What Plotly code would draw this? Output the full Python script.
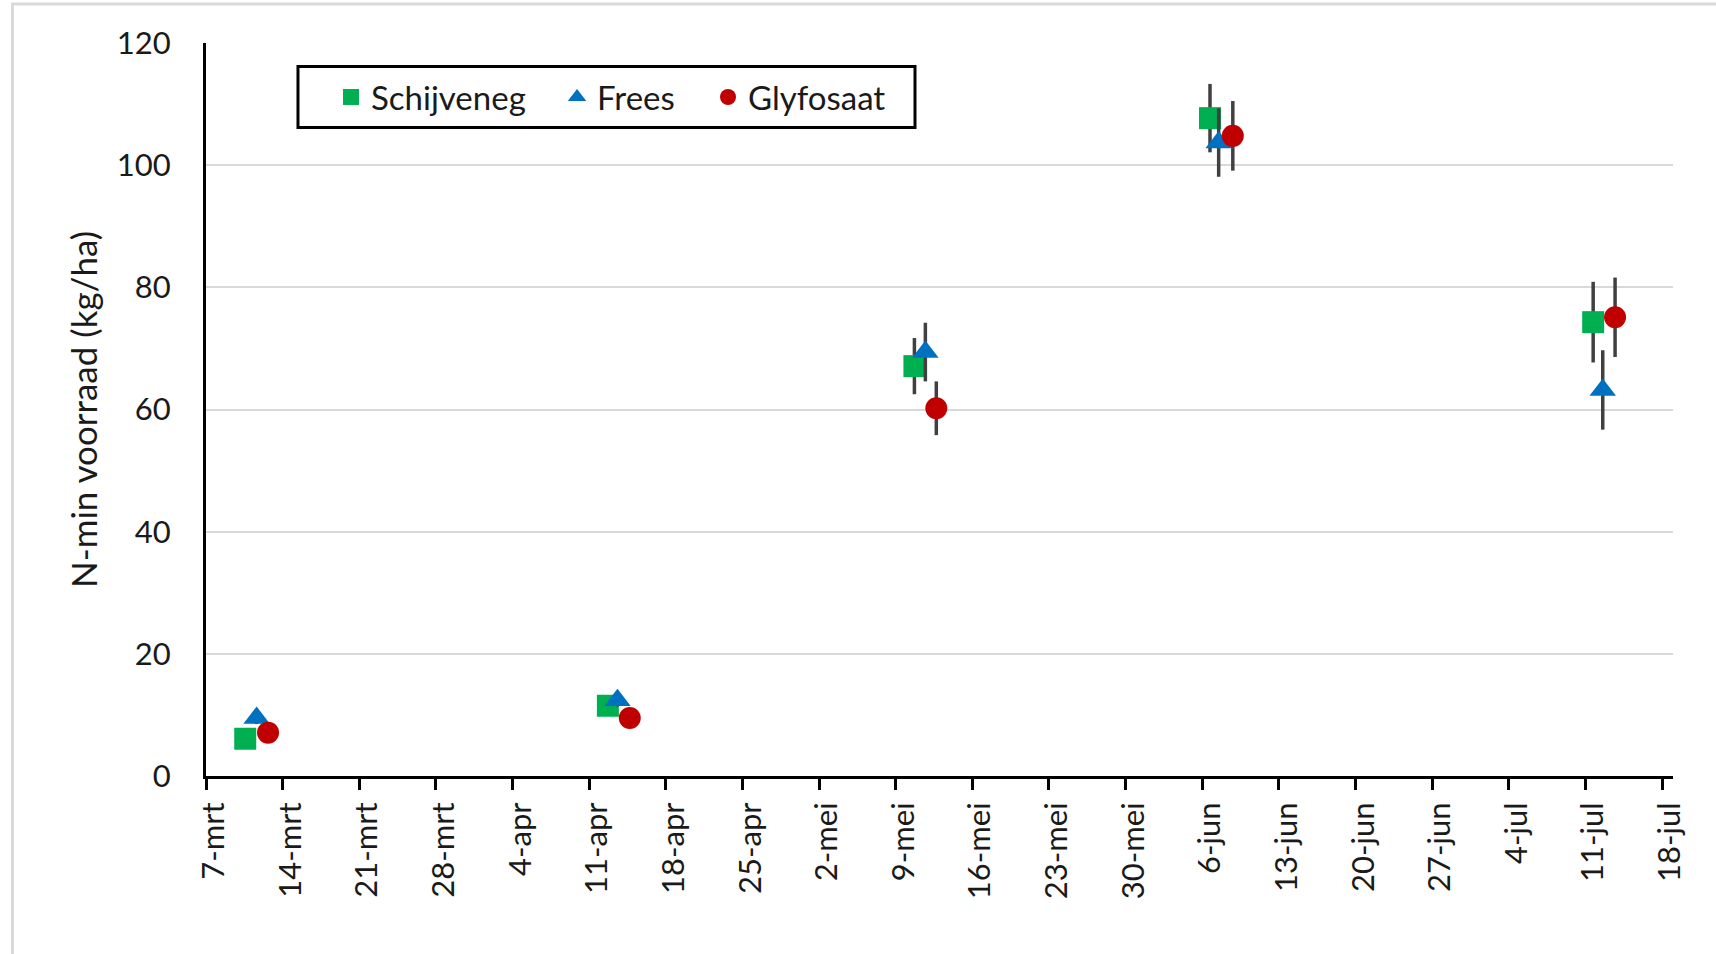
import plotly.graph_objects as go

# ---- data ----
series_names = ["Schijveneg", "Frees", "Glyfosaat"]
colors = ["#00B050", "#0070C0", "#C00000"]
symbols = ["square", "triangle-up", "circle"]

dates_schijveneg = ["2021-03-10 14:00", "2021-04-12 17:00", "2021-05-10 17:00", "2021-06-06 17:00", "2021-07-11 17:00"]
dates_frees = ["2021-03-11 15:00", "2021-04-13 14:00", "2021-05-11 17:00", "2021-06-07 12:00", "2021-07-12 14:00"]
dates_glyfosaat = ["2021-03-12 16:00", "2021-04-14 17:00", "2021-05-12 17:00", "2021-06-08 19:00", "2021-07-13 17:00"]

values_schijveneg = [6.1, 11.5, 67.1, 107.7, 74.3]
values_frees = [9.5, 12.4, 69.4, 103.7, 63.2]
values_glyfosaat = [7.1, 9.5, 60.2, 104.8, 75.1]

err_schijveneg = [1.0, 1.0, 4.6, 5.6, 6.6]
err_frees = [1.0, 1.0, 4.8, 5.6, 6.5]
err_glyfosaat = [1.0, 1.0, 4.4, 5.7, 6.5]

tick_dates = ["2021-03-07", "2021-03-14", "2021-03-21", "2021-03-28", "2021-04-04", "2021-04-11",
              "2021-04-18", "2021-04-25", "2021-05-02", "2021-05-09", "2021-05-16", "2021-05-23",
              "2021-05-30", "2021-06-06", "2021-06-13", "2021-06-20", "2021-06-27", "2021-07-04",
              "2021-07-11", "2021-07-18"]
tick_labels = ["7-mrt", "14-mrt", "21-mrt", "28-mrt", "4-apr", "11-apr", "18-apr", "25-apr",
               "2-mei", "9-mei", "16-mei", "23-mei", "30-mei", "6-jun", "13-jun", "20-jun",
               "27-jun", "4-jul", "11-jul", "18-jul"]
y_ticks = [0, 20, 40, 60, 80, 100, 120]

all_dates = [dates_schijveneg, dates_frees, dates_glyfosaat]
all_values = [values_schijveneg, values_frees, values_glyfosaat]
all_errs = [err_schijveneg, err_frees, err_glyfosaat]
legend_ids = ["legend", "legend2", "legend3"]
legend_x = [0.0852, 0.2393, 0.3422]

FONT = "Lato"
TXT = "#1a1a1a"

fig = go.Figure()
for name, col, sym, xs, ys, es, lid in zip(series_names, colors, symbols, all_dates, all_values, all_errs, legend_ids):
    fig.add_trace(go.Scatter(
        x=xs, y=ys, mode="markers", name=name, legend=lid,
        marker=dict(symbol=sym, size=23 if sym == "triangle-up" else 22, color=col, line=dict(width=0)),
        error_y=dict(type="data", array=es, visible=True, color="#404040", thickness=3.5, width=0),
    ))

legend_common = dict(
    orientation="h", xanchor="left", yanchor="middle", y=0.9263,
    borderwidth=0, bgcolor="rgba(0,0,0,0)",
    font=dict(family=FONT, size=33, color=TXT),
)

fig.update_layout(
    width=1716, height=954,
    margin=dict(l=206, r=43, t=43, b=178),
    paper_bgcolor="white", plot_bgcolor="white",
    font=dict(family=FONT, size=31, color=TXT),
    showlegend=True,
    legend=dict(x=legend_x[0], **legend_common),
    legend2=dict(x=legend_x[1], **legend_common),
    legend3=dict(x=legend_x[2], **legend_common),
    xaxis=dict(
        type="date",
        range=["2021-03-07", "2021-07-19"],
        tickmode="array", tickvals=tick_dates, ticktext=tick_labels,
        tickangle=-90,
        ticks="outside", ticklen=11, tickwidth=3, tickcolor="black",
        showline=True, linecolor="black", linewidth=3,
        showgrid=False, zeroline=False,
        tickfont=dict(family=FONT, size=31, color=TXT),
        ticklabelshift=8,
    ),
    yaxis=dict(
        range=[0, 120],
        tickmode="array", tickvals=y_ticks,
        showline=True, linecolor="black", linewidth=3,
        showgrid=True, gridcolor="#d9d9d9", gridwidth=2,
        zeroline=False, ticks="",
        ticklabelstandoff=26,
        tickfont=dict(family=FONT, size=31, color=TXT),
        title=dict(text="N-min voorraad (kg/ha)", standoff=9,
                   font=dict(family=FONT, size=35, color=TXT)),
    ),
    shapes=[
        # outer chart frame
        dict(type="rect", xref="paper", yref="paper",
             x0=-0.1319, x1=1.06, y0=-0.3, y1=1.0532,
             line=dict(color="#d9d9d9", width=3), fillcolor="rgba(0,0,0,0)", layer="below"),
        # legend frame
        dict(type="rect", xref="paper", yref="paper",
             x0=0.0627, x1=0.4833, y0=0.8846, y1=0.9679,
             line=dict(color="black", width=3), fillcolor="white", layer="above"),
    ],
)

fig.write_html("out.html", config={"displayModeBar": False},
               post_script="document.body.style.margin='0';")
